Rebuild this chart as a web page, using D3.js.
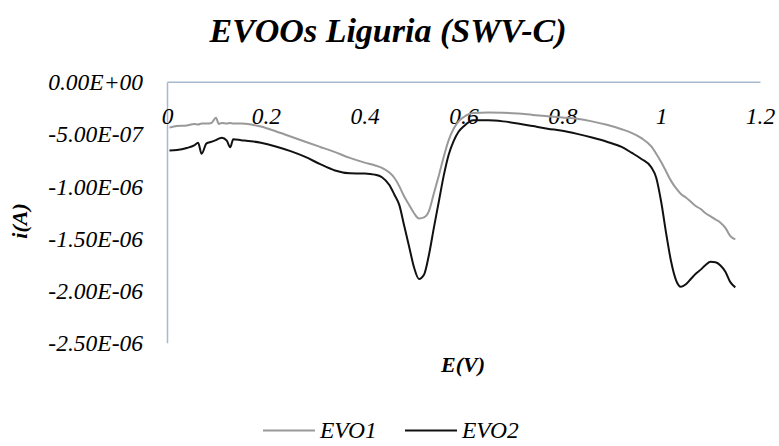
<!DOCTYPE html>
<html>
<head>
<meta charset="utf-8">
<script src="https://cdn.jsdelivr.net/npm/d3@7"></script>
<style>
  html, body { margin: 0; padding: 0; background: #fff; }
  svg { display: block; }
  text { font-family: "Liberation Serif", "Times New Roman", serif; font-style: italic; fill: #000; }
</style>
</head>
<body>
<svg id="chart" width="779" height="446"></svg>
<script>
// Square-wave voltammograms of two Ligurian extra-virgin olive oils
const potential = [
  0.005, 0.02, 0.04, 0.055, 0.063, 0.07, 0.08, 0.09, 0.099, 0.105, 0.111, 0.121, 0.128, 0.134,
  0.15, 0.17, 0.19, 0.22, 0.25, 0.28, 0.31, 0.34, 0.37, 0.40, 0.42, 0.435, 0.45, 0.46, 0.47,
  0.48, 0.49, 0.50, 0.51, 0.52, 0.53, 0.54, 0.55, 0.56, 0.57, 0.58, 0.59, 0.60, 0.62, 0.65,
  0.68, 0.71, 0.74, 0.77, 0.80, 0.83, 0.86, 0.89, 0.92, 0.94, 0.96, 0.98, 0.99, 1.00, 1.01,
  1.02, 1.03, 1.04, 1.05, 1.06, 1.07, 1.08, 1.09, 1.10, 1.11, 1.12, 1.13, 1.14, 1.15
];

// current in microamperes
const evo1 = [
  -0.44, -0.425, -0.42, -0.405, -0.41, -0.40, -0.40, -0.395, -0.345, -0.405, -0.395, -0.40, -0.395, -0.40,
  -0.40, -0.41, -0.43, -0.475, -0.525, -0.575, -0.625, -0.675, -0.73, -0.775, -0.80, -0.825, -0.87, -0.92, -1.00,
  -1.10, -1.18, -1.26, -1.31, -1.30, -1.24, -1.07, -0.90, -0.72, -0.56, -0.45, -0.38, -0.34, -0.30, -0.295,
  -0.297, -0.305, -0.318, -0.33, -0.342, -0.355, -0.38, -0.413, -0.455, -0.49, -0.54, -0.62, -0.69, -0.77, -0.86,
  -0.95, -1.02, -1.075, -1.11, -1.15, -1.19, -1.22, -1.26, -1.29, -1.32, -1.35, -1.40, -1.48, -1.51
];

const evo2 = [
  -0.66, -0.655, -0.635, -0.61, -0.585, -0.69, -0.59, -0.575, -0.56, -0.545, -0.536, -0.565, -0.628, -0.552,
  -0.56, -0.57, -0.585, -0.62, -0.665, -0.72, -0.79, -0.85, -0.877, -0.88, -0.89, -0.915, -0.99, -1.08, -1.18,
  -1.38, -1.58, -1.78, -1.89, -1.85, -1.66, -1.40, -1.15, -0.90, -0.70, -0.57, -0.48, -0.43, -0.37, -0.37,
  -0.38, -0.40, -0.425, -0.45, -0.47, -0.50, -0.535, -0.575, -0.625, -0.68, -0.74, -0.82, -0.92, -1.15, -1.45,
  -1.72, -1.90, -1.965, -1.94, -1.89, -1.84, -1.80, -1.755, -1.725, -1.73, -1.76, -1.82, -1.92, -1.97
];

const seriesNames = ["EVO1", "EVO2"];
const seriesColors = ["#999999", "#111111"];

const xTicks = [0, 0.2, 0.4, 0.6, 0.8, 1, 1.2];
const yTicks = [0, -5e-7, -1e-6, -1.5e-6, -2e-6, -2.5e-6];

const titleText = "EVOOs Liguria (SWV-C)";
const xTitle = "E(V)";
const yTitle = "i(A)";

const svg = d3.select("#chart");
const plot = { left: 167, right: 760, top: 81.7, bottom: 342.7 };
const axisColor = "#a7b9d0";
const tickFont = "23.5px";

const x = d3.scaleLinear().domain([0, 1.2]).range([plot.left, plot.right]);
const y = d3.scaleLinear().domain([-2.5e-6, 0]).range([plot.bottom, plot.top]);

// "0.00E+00"-style labels
function sci(v) {
  const [m, e] = v.toExponential(2).split("e");
  const ev = +e;
  const exp = (ev < 0 ? "-" : "+") + String(Math.abs(ev)).padStart(2, "0");
  return m + "E" + exp;
}

// title
svg.append("text")
  .attr("x", 388).attr("y", 41.5)
  .attr("text-anchor", "middle")
  .style("font-size", "34px").style("font-weight", "bold")
  .text(titleText);

// y axis
const yAxis = svg.append("g")
  .attr("transform", `translate(${plot.left},0)`)
  .call(d3.axisLeft(y).tickValues(yTicks).tickFormat(sci).tickSize(0).tickSizeOuter(0).tickPadding(24));
yAxis.select(".domain").attr("stroke", axisColor).attr("stroke-width", 1.5);
yAxis.selectAll("text")
  .attr("dy", "0.34em")
  .style("font-family", "'Liberation Serif', serif").style("font-style", "italic")
  .style("font-size", tickFont).attr("fill", "#000");

// x axis along the zero-current line, labels hang below it
const xAxis = svg.append("g")
  .attr("transform", `translate(0,${y(0)})`)
  .call(d3.axisBottom(x).tickValues(xTicks).tickFormat(d => String(+d.toFixed(1))).tickSize(0).tickSizeOuter(0));
xAxis.select(".domain").attr("stroke", axisColor).attr("stroke-width", 1.5);
xAxis.selectAll("text")
  .attr("y", 42).attr("dy", 0)
  .style("font-family", "'Liberation Serif', serif").style("font-style", "italic")
  .style("font-size", tickFont).attr("fill", "#000");

// axis titles
svg.append("text")
  .attr("x", 463).attr("y", 372)
  .attr("text-anchor", "middle")
  .style("font-size", "22px").style("font-weight", "bold")
  .text(xTitle);

svg.append("text")
  .attr("transform", "translate(27,221) rotate(-90)")
  .attr("text-anchor", "middle")
  .style("font-size", "22px").style("font-weight", "bold")
  .text(yTitle);

// curves
const line = d3.line()
  .x((d, i) => x(potential[i]))
  .y(d => y(d * 1e-6))
  .curve(d3.curveMonotoneX);

[evo1, evo2].forEach((vals, k) => {
  svg.append("path")
    .attr("d", line(vals))
    .attr("fill", "none")
    .attr("stroke", seriesColors[k])
    .attr("stroke-width", 2)
    .attr("stroke-linejoin", "round");
});

// legend
const legendX = [263, 405];
const legend = svg.append("g");
seriesNames.forEach((name, k) => {
  legend.append("line")
    .attr("x1", legendX[k]).attr("x2", legendX[k] + 52)
    .attr("y1", 430.5).attr("y2", 430.5)
    .attr("stroke", seriesColors[k]).attr("stroke-width", 2);
  legend.append("text")
    .attr("x", legendX[k] + 57).attr("y", 438)
    .style("font-size", tickFont)
    .text(name);
});
</script>
</body>
</html>
